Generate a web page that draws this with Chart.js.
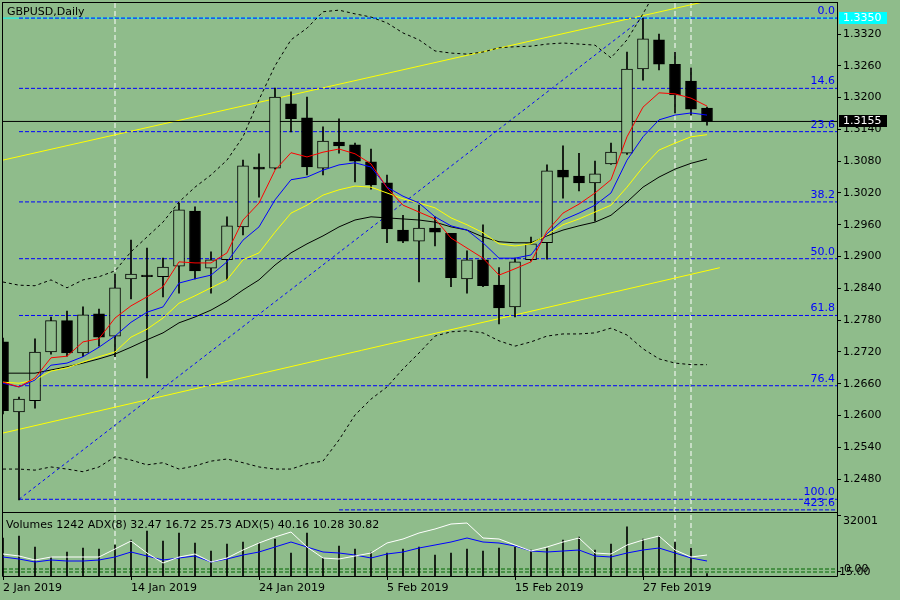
<!DOCTYPE html>
<html>
<head>
<meta charset="utf-8">
<script src="https://cdn.jsdelivr.net/npm/chart.js@4.4.1/dist/chart.umd.min.js"></script>
<style>
  html, body { margin: 0; padding: 0; background: #8FBC8B; width: 900px; height: 600px; overflow: hidden; }
  #main { position: absolute; left: 0; top: 0; }
  #sub { position: absolute; left: 0; top: 513px; }
</style>
</head>
<body>
<canvas id="main" width="900" height="513"></canvas>
<canvas id="sub" width="900" height="87"></canvas>
<script>
// ---- data ----
const dates = ['2 Jan 2019','3 Jan 2019','4 Jan 2019','7 Jan 2019','8 Jan 2019','9 Jan 2019','10 Jan 2019','11 Jan 2019',
  '14 Jan 2019','15 Jan 2019','16 Jan 2019','17 Jan 2019','18 Jan 2019','21 Jan 2019','22 Jan 2019','23 Jan 2019',
  '24 Jan 2019','25 Jan 2019','28 Jan 2019','29 Jan 2019','30 Jan 2019','31 Jan 2019','1 Feb 2019','4 Feb 2019',
  '5 Feb 2019','6 Feb 2019','7 Feb 2019','8 Feb 2019','11 Feb 2019','12 Feb 2019','13 Feb 2019','14 Feb 2019',
  '15 Feb 2019','18 Feb 2019','19 Feb 2019','20 Feb 2019','21 Feb 2019','22 Feb 2019','25 Feb 2019','26 Feb 2019',
  '27 Feb 2019','28 Feb 2019','1 Mar 2019','4 Mar 2019','5 Mar 2019'];

const opens  = [1.2739,1.2607,1.2628,1.2720,1.2779,1.2718,1.2792,1.2750,1.2858,1.2865,1.2862,1.2882,1.2986,1.2878,1.2894,
  1.2956,1.3069,1.3067,1.3188,1.3162,1.3067,1.3116,1.3111,1.3079,1.3039,1.2950,1.2929,1.2954,1.2944,1.2858,1.2894,
  1.2846,1.2805,1.2894,1.2926,1.3063,1.3052,1.3039,1.3075,1.3095,1.3254,1.3309,1.3263,1.3231,1.3180];
const highs  = [1.2746,1.2635,1.2745,1.2786,1.2797,1.2805,1.2801,1.2867,1.2931,1.2916,1.2897,1.3001,1.2994,1.2909,1.2975,
  1.3082,1.3094,1.3218,1.3211,1.3201,1.3145,1.3160,1.3114,1.3103,1.3054,1.2978,1.2997,1.2975,1.2944,1.2911,1.2960,
  1.2879,1.2897,1.2937,1.3073,1.3109,1.3095,1.3080,1.3114,1.3286,1.3350,1.3320,1.3286,1.3256,1.3182];
const lows   = [1.2603,1.2441,1.2614,1.2716,1.2712,1.2711,1.2731,1.2711,1.2820,1.2671,1.2824,1.2831,1.2858,1.2831,1.2856,
  1.2941,1.3012,1.3065,1.3135,1.3054,1.3054,1.3095,1.3041,1.3027,1.2926,1.2926,1.2852,1.2920,1.2843,1.2831,1.2843,
  1.2773,1.2786,1.2892,1.2895,1.3010,1.3024,1.2967,1.3074,1.3093,1.3233,1.3252,1.3171,1.3167,1.3148];
const closes = [1.2609,1.2631,1.2720,1.2779,1.2718,1.2790,1.2748,1.2841,1.2867,1.2862,1.2880,1.2988,1.2873,1.2894,1.2958,
  1.3071,1.3065,1.3201,1.3160,1.3069,1.3118,1.3109,1.3080,1.3035,1.2952,1.2929,1.2954,1.2946,1.2860,1.2894,1.2845,
  1.2803,1.2890,1.2924,1.3062,1.3050,1.3039,1.3056,1.3097,1.3254,1.3311,1.3263,1.3205,1.3178,1.3155];

const maRed = [1.2663,1.2654,1.2671,1.2709,1.2712,1.2739,1.2745,1.2784,1.2807,1.2824,1.2843,1.2890,1.2888,1.2888,1.2907,
  1.2969,1.3001,1.3063,1.3096,1.3088,1.3097,1.3103,1.3094,1.3075,1.3030,1.2997,1.2984,1.2971,1.2935,1.2916,1.2897,
  1.2865,1.2877,1.2890,1.2948,1.2982,1.2999,1.3020,1.3045,1.3126,1.3182,1.3209,1.3207,1.3199,1.3184];
const maBlue = [1.2661,1.2654,1.2667,1.2695,1.2699,1.2711,1.2729,1.2750,1.2776,1.2795,1.2805,1.2850,1.2858,1.2865,1.2890,
  1.2931,1.2956,1.3007,1.3045,1.3050,1.3063,1.3073,1.3077,1.3069,1.3031,1.3014,1.3001,1.2975,1.2958,1.2950,1.2926,
  1.2897,1.2897,1.2903,1.2943,1.2969,1.2982,1.2997,1.3020,1.3082,1.3126,1.3158,1.3167,1.3171,1.3167];
const maYellow = [1.2663,1.2661,1.2667,1.2684,1.2690,1.2701,1.2711,1.2720,1.2748,1.2763,1.2784,1.2812,1.2826,1.2841,1.2856,
  1.2894,1.2907,1.2946,1.2982,1.2997,1.3016,1.3026,1.3033,1.3031,1.3020,1.3009,1.3001,1.2992,1.2973,1.2960,1.2945,
  1.2924,1.2920,1.2924,1.2941,1.2960,1.2971,1.2984,1.2997,1.3031,1.3069,1.3101,1.3114,1.3126,1.3130];
const maBlack = [1.2680,1.2680,1.2680,1.2686,1.2692,1.2699,1.2707,1.2716,1.2729,1.2743,1.2756,1.2775,1.2786,1.2799,1.2816,
  1.2837,1.2856,1.2884,1.2907,1.2924,1.2939,1.2956,1.2969,1.2975,1.2973,1.2971,1.2969,1.2965,1.2956,1.2950,1.2937,
  1.2928,1.2926,1.2926,1.2939,1.2950,1.2958,1.2965,1.2978,1.3003,1.3031,1.3050,1.3065,1.3076,1.3084];
const bandUpper = [1.2852,1.2846,1.2845,1.2856,1.2841,1.2856,1.2862,1.2873,1.2909,1.2937,1.2965,1.3003,1.3031,1.3054,1.3082,
  1.3126,1.3196,1.3260,1.3309,1.3331,1.3362,1.3365,1.3358,1.3352,1.3341,1.3322,1.3309,1.3288,1.3284,1.3282,1.3286,
  1.3294,1.3296,1.3297,1.3301,1.3303,1.3301,1.3299,1.3275,1.3309,1.3358,1.3413,1.3450,1.3479,1.3497];
const bandLower = [1.2499,1.2499,1.2497,1.2503,1.2499,1.2494,1.2503,1.2522,1.2516,1.2507,1.2511,1.2499,1.2505,1.2514,1.2518,
  1.2511,1.2503,1.2499,1.2499,1.2509,1.2514,1.2554,1.2601,1.2631,1.2654,1.2688,1.2718,1.2750,1.2758,1.2760,1.2756,
  1.2741,1.2731,1.2739,1.2750,1.2754,1.2754,1.2756,1.2765,1.2752,1.2726,1.2707,1.2699,1.2696,1.2696];

const volumes = [19950,21000,15230,9980,12600,14700,14180,16280,18900,23630,18380,22580,17330,13130,16800,17850,17330,
  19430,12080,22580,9450,15750,14180,12600,12080,14180,15230,11030,12080,14180,13130,14700,15230,13650,14700,18900,
  20480,13650,16800,25730,19430,21000,17850,14700,1242];
const adxWhite = [22,20,16,19,19,19,19,27,35,23,13,19,22,14,18,26,33,39,44,29,18,17,20,23,33,37,43,47,52,53,38,37,31,
  25,29,34,38,23,22,31,36,40,26,19,21];
const adxBlue = [19,17,14,16,15,15,16,19,24,20,16,18,20,14,17,21,24,29,34,29,24,23,21,18,22,24,28,31,34,38,34,33,30,
  25,24,25,26,20,19,23,26,28,23,18,15];
const adxLevels = [7, 4];

const priceTicks = [1.2480,1.2540,1.2600,1.2660,1.2720,1.2780,1.2840,1.2900,1.2960,1.3020,1.3080,1.3140,1.3200,1.3260,1.3320];
const dateTickIdx = [0, 8, 16, 24, 32, 40];
const verticalIdx = [7, 42, 43];

const fibLevels = [0, 14.6, 23.6, 38.2, 50, 61.8, 76.4, 100];
const fibHigh = 1.3350, fibLow = 1.2442, fibStartIdx = 1, fibEndIdx = 40;
const extLabel = '423.6', extPrice = 1.2422, extStartIdx = 21;
const trendUpperIdx = [0, 44], trendUpperPrice = [1.3082, 1.3382];
const trendLowerIdx = [0, 44.8], trendLowerPrice = [1.2567, 1.2879];
const bidPrice = 1.3155, alertPrice = 1.3350;

const symbolTitle = 'GBPUSD,Daily';
const subTitle = 'Volumes 1242 ADX(8) 32.47 16.72 25.73 ADX(5) 40.16 10.28 30.82';
const volMax = 32001;

// ---- chart setup ----
const BG = '#8FBC8B';
const FONT = '11px "DejaVu Sans"';
const xMax = 52.125;
const priceMin = 1.2418, priceMax = 1.33785;
Chart.defaults.font.family = 'DejaVu Sans';
Chart.defaults.font.size = 11;

const pts = arr => arr.map((v, i) => ({ x: i, y: v }));
const fibPrice = l => fibHigh - l / 100 * (fibHigh - fibLow);
const line = (data, color, extra) => Object.assign({
  type: 'line', data: data, borderColor: color, borderWidth: 1, pointRadius: 0, tension: 0, fill: false
}, extra || {});

const mainDecor = {
  id: 'mainDecor',
  afterDraw(chart) {
    const { ctx, chartArea: a, scales: { y } } = chart;
    ctx.save();
    ctx.strokeStyle = '#000';
    ctx.lineWidth = 1;
    ctx.strokeRect(a.left - 0.5, a.top - 0.5, a.right - a.left + 1, a.bottom - a.top + 1);
    ctx.font = FONT;
    ctx.textBaseline = 'middle';
    ctx.textAlign = 'left';
    ctx.fillStyle = '#000';
    ctx.fillText(symbolTitle, a.left + 4, a.top + 9);

    // fibo level captions
    ctx.textAlign = 'right';
    ctx.fillStyle = '#0000FF';
    fibLevels.forEach(l => ctx.fillText(l.toFixed(1), a.right - 2, y.getPixelForValue(fibPrice(l)) - 7));
    ctx.fillText(extLabel, a.right - 2, y.getPixelForValue(extPrice) - 7);

    // price boxes on the axis
    const box = (price, fill, text) => {
      const py = Math.round(y.getPixelForValue(price));
      ctx.fillStyle = fill;
      ctx.fillRect(a.right + 2, py - 6, 48, 12);
      ctx.fillStyle = text;
      ctx.textAlign = 'left';
      ctx.fillText(price.toFixed(4), a.right + 6, py);
    };
    box(alertPrice, '#00FFFF', '#FFFFFF');
    box(bidPrice, '#000000', '#FFFFFF');
    ctx.restore();
  }
};

const mainSets = [
  line(pts(maRed), '#FF0000', { order: 1 }),
  line(pts(maBlue), '#0000FF', { order: 1 }),
  line(pts(maYellow), '#FFFF00', { order: 1 }),
  line(pts(maBlack), '#000000', { order: 1 }),
  line(pts(bandUpper), '#000000', { order: 2, borderDash: [3, 3] }),
  line(pts(bandLower), '#000000', { order: 2, borderDash: [3, 3] }),
  {
    type: 'bar', order: 10, grouped: false, barThickness: 11, borderWidth: 1, borderSkipped: false,
    borderColor: '#000',
    backgroundColor: closes.map((c, i) => c >= opens[i] ? BG : '#000'),
    data: closes.map((c, i) => ({ x: i, y: [opens[i], c] }))
  },
  {
    type: 'bar', order: 11, grouped: false, barThickness: 1, backgroundColor: '#000',
    data: highs.map((h, i) => ({ x: i, y: [lows[i], h] }))
  },
  line([{ x: 0, y: bidPrice }, { x: xMax, y: bidPrice }], '#000000', { order: 12 }),
  line([{ x: fibStartIdx, y: fibLow }, { x: fibEndIdx, y: fibHigh }], '#0000FF', { order: 13, borderDash: [3, 3] }),
  line([{ x: extStartIdx, y: extPrice }, { x: xMax, y: extPrice }], '#0000FF', { order: 13, borderDash: [4, 2] }),
  line(trendUpperIdx.map((x, i) => ({ x: x, y: trendUpperPrice[i] })), '#FFFF00', { order: 14 }),
  line(trendLowerIdx.map((x, i) => ({ x: x, y: trendLowerPrice[i] })), '#FFFF00', { order: 14 }),
  line([{ x: 0, y: alertPrice }, { x: xMax, y: alertPrice }], '#00FFFF', { order: 16 })
];
fibLevels.forEach(l => {
  mainSets.push(line([{ x: fibStartIdx, y: fibPrice(l) }, { x: xMax, y: fibPrice(l) }], '#0000FF', { order: 13, borderDash: [4, 2] }));
});
verticalIdx.forEach(v => {
  mainSets.push(line([{ x: v, y: priceMin }, { x: v, y: priceMax }], '#FFFFFF', { order: 15, borderDash: [5, 3] }));
});

new Chart(document.getElementById('main'), {
  type: 'bar',
  data: { datasets: mainSets },
  options: {
    responsive: false, animation: false, devicePixelRatio: 1, events: [],
    layout: { padding: { left: 3, top: 3, right: 0, bottom: 1 } },
    plugins: { legend: { display: false }, tooltip: { enabled: false } },
    scales: {
      x: { type: 'linear', min: 0, max: xMax, offset: false, grid: { offset: false }, display: false },
      y: {
        type: 'linear', position: 'right', min: priceMin, max: priceMax,
        grid: { drawOnChartArea: false, drawTicks: true, tickLength: 4, color: '#000' },
        border: { display: false },
        ticks: { color: '#000', font: { size: 11 }, padding: 2, callback: v => v.toFixed(4) },
        afterBuildTicks: s => { s.ticks = priceTicks.map(v => ({ value: v })); },
        afterFit: s => { s.width = 63; s.paddingTop = 0; s.paddingBottom = 0; }
      }
    }
  },
  plugins: [mainDecor]
});

const subDecor = {
  id: 'subDecor',
  afterDraw(chart) {
    const { ctx, chartArea: a, scales: { vol } } = chart;
    ctx.save();
    ctx.strokeStyle = '#000';
    ctx.lineWidth = 1;
    ctx.beginPath();
    ctx.moveTo(a.left - 0.5, 0);
    ctx.lineTo(a.left - 0.5, a.bottom + 0.5);
    ctx.lineTo(a.right + 0.5, a.bottom + 0.5);
    ctx.lineTo(a.right + 0.5, 0);
    const ty = Math.round(vol.getPixelForValue(volMax)) + 0.5;
    ctx.moveTo(a.right + 0.5, ty);
    ctx.lineTo(a.right + 4, ty);
    ctx.moveTo(a.right + 0.5, a.bottom - 4.5);
    ctx.lineTo(a.right + 4, a.bottom - 4.5);
    ctx.stroke();
    ctx.font = FONT;
    ctx.textBaseline = 'middle';
    ctx.textAlign = 'left';
    ctx.fillStyle = '#000';
    ctx.fillText(subTitle, a.left + 3, a.top + 10);
    ctx.fillText(String(volMax), a.right + 6, ty + 6);
    ctx.fillText('15.00', a.right + 2, a.bottom - 4);
    ctx.fillText('0.00', a.right + 7, a.bottom - 7);
    ctx.restore();
  }
};

const subSets = [
  line(pts(adxWhite), '#FFFFFF', { yAxisID: 'adx', order: 1 }),
  line(pts(adxBlue), '#0000FF', { yAxisID: 'adx', order: 1 }),
  { type: 'bar', yAxisID: 'vol', order: 5, grouped: false, barThickness: 1, backgroundColor: '#000', data: pts(volumes) }
];
adxLevels.forEach(l => {
  subSets.push(line([{ x: 0, y: l }, { x: xMax, y: l }], '#006400', { yAxisID: 'adx', order: 6, borderDash: [4, 2] }));
});
verticalIdx.forEach(v => {
  subSets.push(line([{ x: v, y: 0 }, { x: v, y: volMax }], '#FFFFFF', { yAxisID: 'vol', order: 7, borderDash: [5, 3] }));
});

new Chart(document.getElementById('sub'), {
  type: 'bar',
  data: { datasets: subSets },
  options: {
    responsive: false, animation: false, devicePixelRatio: 1, events: [],
    layout: { padding: { left: 3, top: 2, right: 63, bottom: 0 } },
    plugins: { legend: { display: false }, tooltip: { enabled: false } },
    scales: {
      x: {
        type: 'linear', position: 'bottom', min: 0, max: xMax, offset: false,
        grid: { offset: false, drawOnChartArea: false, drawTicks: true, tickLength: 4, color: '#000' },
        border: { display: false },
        ticks: { align: 'start', color: '#000', font: { size: 11 }, padding: 2, maxRotation: 0, autoSkip: false,
          callback: (v, i) => dates[dateTickIdx[i]] },
        afterBuildTicks: s => { s.ticks = dateTickIdx.map(v => ({ value: v })); },
        afterFit: s => { s.height = 24; s.paddingLeft = 0; s.paddingRight = 0; }
      },
      vol: { type: 'linear', axis: 'y', position: 'right', display: false, min: 0, max: volMax },
      adx: { type: 'linear', axis: 'y', position: 'right', display: false, min: 0, max: 61 }
    }
  },
  plugins: [subDecor]
});
</script>
</body>
</html>
